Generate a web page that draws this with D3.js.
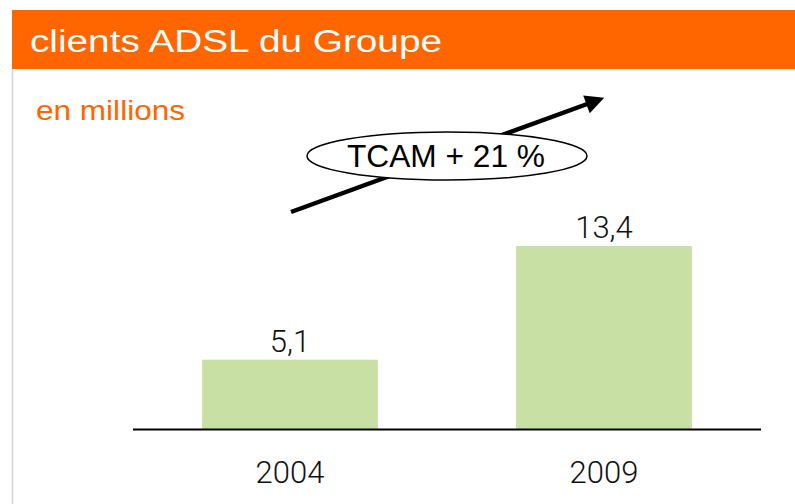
<!DOCTYPE html>
<meta charset="utf-8">
<head>
<title>clients ADSL du Groupe</title>
<script src="https://cdn.jsdelivr.net/npm/d3@7"></script>
<style>
body { margin: 0; background: #fff; }
svg { display: block; }
.title { font-family: "Liberation Sans", Arial, sans-serif; font-size: 31px; fill: #fff; }
.unit { font-family: "Liberation Sans", Arial, sans-serif; font-size: 28px; fill: #ff6600; }
.num { font-family: Roboto, "Liberation Sans", sans-serif; font-weight: 300; font-size: 31px; fill: #111; }
.cagr { font-family: "Liberation Sans", Arial, sans-serif; font-size: 31px; fill: #000; }
</style>
</head>
<body>
<script>
// Data
const years = ["2004", "2009"];
const clients = [5.1, 13.4];
const labels = ["5,1", "13,4"];
const cagrText = "TCAM + 21 %";

const width = 795, height = 504;

const svg = d3.select("body").append("svg")
    .attr("width", width)
    .attr("height", height);

// panel left border + orange header
svg.append("line")
    .attr("x1", 12.5).attr("x2", 12.5)
    .attr("y1", 69).attr("y2", height)
    .attr("stroke", "#d4d4d4").attr("stroke-width", 1.5);

svg.append("rect")
    .attr("x", 12).attr("y", 10)
    .attr("width", width - 12).attr("height", 59)
    .attr("fill", "#ff6600");

// the original type is set wide, so stretch to the measured width
svg.append("text").attr("class", "title")
    .attr("x", 30).attr("y", 52)
    .attr("textLength", 412)
    .attr("lengthAdjust", "spacingAndGlyphs")
    .text("clients ADSL du Groupe");

svg.append("text").attr("class", "unit")
    .attr("x", 36).attr("y", 120)
    .attr("textLength", 149)
    .attr("lengthAdjust", "spacingAndGlyphs")
    .text("en millions");

// scales
const x = d3.scaleBand()
    .domain(years)
    .range([133, 761])
    .paddingInner(0.44)
    .paddingOuter(0.22);

const y = d3.scaleLinear()
    .domain([0, 13.4])
    .range([429.5, 246]);

// bars
svg.selectAll(".bar")
    .data(clients)
    .join("rect")
    .attr("class", "bar")
    .attr("x", (d, i) => x(years[i]))
    .attr("y", d => y(d))
    .attr("width", x.bandwidth())
    .attr("height", d => y(0) - y(d))
    .attr("fill", "#c9e0a4");

// value labels
svg.selectAll(".val")
    .data(clients)
    .join("text")
    .attr("class", "num")
    .attr("x", (d, i) => x(years[i]) + x.bandwidth() / 2)
    .attr("y", d => y(d) - 8)
    .attr("text-anchor", "middle")
    .text((d, i) => labels[i]);

// baseline
svg.append("line")
    .attr("x1", 133).attr("x2", 761)
    .attr("y1", 429.5).attr("y2", 429.5)
    .attr("stroke", "#000").attr("stroke-width", 2);

// category labels
svg.selectAll(".cat")
    .data(years)
    .join("text")
    .attr("class", "num")
    .attr("x", d => x(d) + x.bandwidth() / 2)
    .attr("y", 483)
    .attr("text-anchor", "middle")
    .text(d => d);

// growth arrow
svg.append("defs").append("marker")
    .attr("id", "head")
    .attr("viewBox", "0 0 10 10")
    .attr("refX", 2).attr("refY", 5)
    .attr("markerWidth", 5).attr("markerHeight", 4.2)
    .attr("orient", "auto")
    .append("path")
    .attr("d", "M0,0 L10,5 L0,10 z")
    .attr("fill", "#000");

svg.append("line")
    .attr("x1", 291).attr("y1", 212)
    .attr("x2", 590).attr("y2", 103)
    .attr("stroke", "#000").attr("stroke-width", 4.5)
    .attr("marker-end", "url(#head)");

svg.append("ellipse")
    .attr("cx", 447).attr("cy", 156)
    .attr("rx", 140).attr("ry", 24)
    .attr("fill", "#fff")
    .attr("stroke", "#000").attr("stroke-width", 1.5);

svg.append("text").attr("class", "cagr")
    .attr("x", 347).attr("y", 167)
    .attr("textLength", 198)
    .attr("lengthAdjust", "spacingAndGlyphs")
    .text(cagrText);
</script>
</body>
</html>
